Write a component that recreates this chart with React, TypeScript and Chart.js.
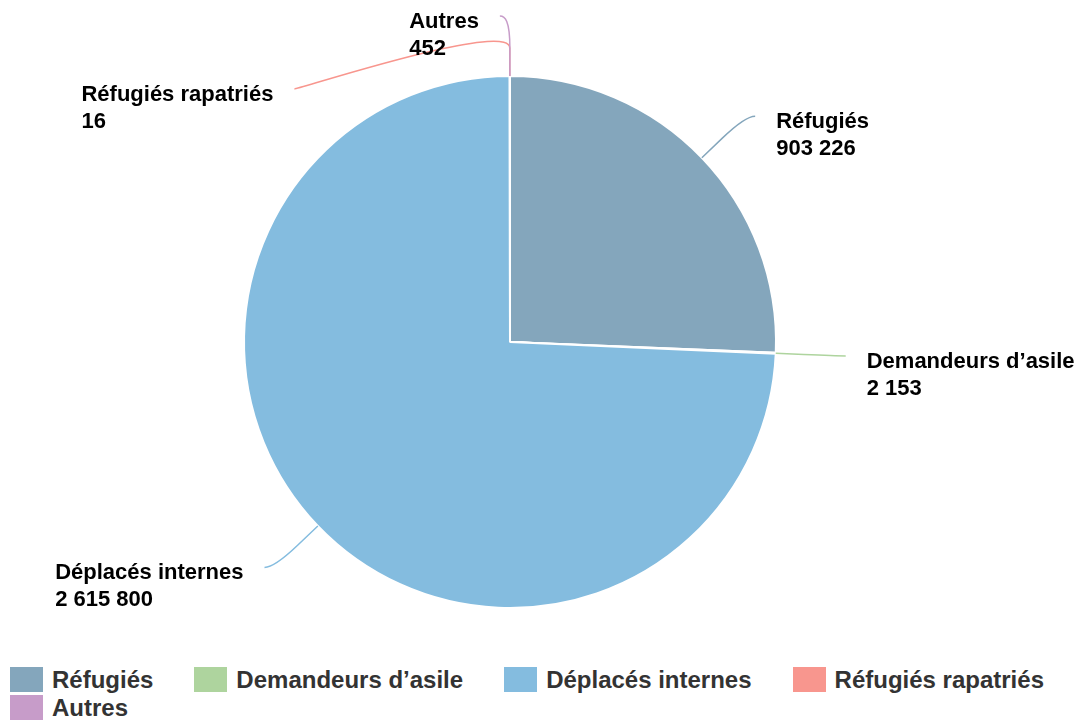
import React, { useEffect, useRef } from 'react';
import { Chart, registerables } from 'chart.js';

Chart.register(...registerables);

const categories = ['Réfugiés', 'Demandeurs d’asile', 'Déplacés internes', 'Réfugiés rapatriés', 'Autres'];
const values = [903226, 2153, 2615800, 16, 452];
const colors = ['#84A6BC', '#AED49E', '#84BCDF', '#F8968E', '#C79CC9'];

const FONT = '"Liberation Sans", Arial, Helvetica, sans-serif';

function fmt(v: number): string {
  return String(v).replace(/\B(?=(\d{3})+(?!\d))/g, ' ');
}

const labelPlugin = {
  id: 'pieLabels',
  afterDraw(chart: any) {
    const ctx = chart.ctx as CanvasRenderingContext2D;
    const meta = chart.getDatasetMeta(0);
    const LABEL_OFF = 60;
    const BREAK_OFF = 28;
    const CONNECTOR_PAD = 10;
    const MIN_GAP = 73;
    const TEXT_GAP = 21;
    const LINE_H = 27;
    const TEXT_DY = 6;
    const items = meta.data.map((arc: any, i: number) => {
      const p = arc.getProps(['x', 'y', 'startAngle', 'endAngle', 'outerRadius'], true);
      const mid = (p.startAngle + p.endAngle) / 2;
      const R = p.outerRadius + LABEL_OFF;
      return {
        i, mid, cx: p.x, cy: p.y, r: p.outerRadius, R,
        right: Math.cos(mid) >= 0,
        y: p.y + R * Math.sin(mid),
        x: 0,
      };
    });
    ['left', 'right'].forEach((side) => {
      const group = items.filter((it: any) => (side === 'right') === it.right).sort((a: any, b: any) => a.y - b.y);
      let prev = -Infinity;
      group.forEach((it: any) => {
        it.y = Math.max(it.y, prev + MIN_GAP);
        prev = it.y;
      });
    });
    items.forEach((it: any) => {
      const dy = it.y - it.cy;
      const dx = Math.sqrt(Math.max(it.R * it.R - dy * dy, 0));
      it.x = it.cx + (it.right ? dx + CONNECTOR_PAD : -dx - CONNECTOR_PAD);
    });

    ctx.save();
    ctx.font = `bold 22px ${FONT}`;
    items.forEach((it: any) => {
      const ex = it.cx + it.r * Math.cos(it.mid);
      const ey = it.cy + it.r * Math.sin(it.mid);
      const bx = it.cx + (it.r + BREAK_OFF) * Math.cos(it.mid);
      const by = it.cy + (it.r + BREAK_OFF) * Math.sin(it.mid);
      ctx.beginPath();
      ctx.moveTo(it.x, it.y);
      ctx.bezierCurveTo(it.x + (it.right ? -5 : 5), it.y, 2 * bx - ex, 2 * by - ey, bx, by);
      ctx.lineTo(ex, ey);
      ctx.strokeStyle = colors[it.i];
      ctx.lineWidth = 1.5;
      ctx.stroke();

      const l1 = categories[it.i];
      const l2 = fmt(values[it.i]);
      const w = Math.max(ctx.measureText(l1).width, ctx.measureText(l2).width);
      const tx = it.right ? it.x + TEXT_GAP : it.x - TEXT_GAP - w;
      ctx.fillStyle = '#000';
      ctx.textBaseline = 'middle';
      ctx.textAlign = 'left';
      ctx.fillText(l1, tx, it.y + TEXT_DY);
      ctx.fillText(l2, tx, it.y + TEXT_DY + LINE_H);
    });
    ctx.restore();
  },
};

export default function App() {
  const ref = useRef<HTMLCanvasElement>(null);
  useEffect(() => {
    document.body.style.margin = '0';
    const chart = new Chart(ref.current as HTMLCanvasElement, {
      type: 'pie',
      data: {
        labels: categories,
        datasets: [{ data: values, backgroundColor: colors, borderColor: '#ffffff', borderWidth: 2 }],
      },
      options: {
        responsive: false,
        animation: false,
        layout: { padding: { left: 243, right: 298, top: 75, bottom: 51 } },
        plugins: { legend: { display: false }, tooltip: { enabled: false } },
      },
      plugins: [labelPlugin],
    } as any);
    return () => chart.destroy();
  }, []);

  return (
    <div style={{ position: 'relative', width: 1075, height: 721, overflow: 'hidden', fontFamily: FONT }}>
      <canvas ref={ref} width={1075} height={660} style={{ position: 'absolute', left: 0, top: 0 }} />
      <div
        style={{
          position: 'absolute', left: 10, top: 667, width: 1060,
          display: 'flex', flexWrap: 'wrap', columnGap: 41, rowGap: 3,
        }}
      >
        {categories.map((c, i) => (
          <div key={c} style={{ display: 'flex', alignItems: 'center', height: 25 }}>
            <span style={{ display: 'block', width: 33, height: 25, background: colors[i], marginRight: 9 }} />
            <span style={{ font: `bold 24px ${FONT}`, color: '#333', lineHeight: '25px', whiteSpace: 'nowrap' }}>{c}</span>
          </div>
        ))}
      </div>
    </div>
  );
}
